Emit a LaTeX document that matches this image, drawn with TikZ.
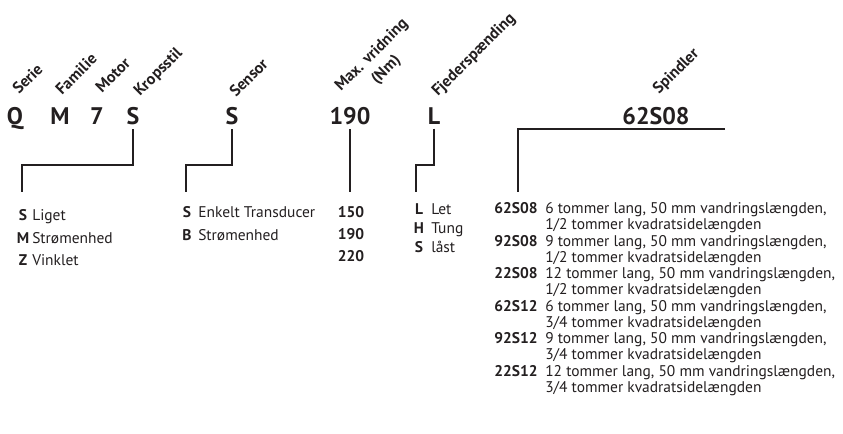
\documentclass[tikz,border=0pt]{standalone}
\usepackage{fontspec}
\setmainfont{PT Sans}
\usepackage{tikz}

\definecolor{ink}{RGB}{35,31,32}

\tikzset{
	code/.style={font=\fontsize{18}{18}\selectfont\bfseries, text=ink, anchor=base},
	lab/.style={font=\fontsize{12}{12}\selectfont\bfseries, text=ink, rotate=45, anchor=base west, inner sep=0pt},
	key/.style={font=\fontsize{11.6}{12}\selectfont\bfseries, text=ink, anchor=base, inner sep=0pt},
	item/.style={font=\fontsize{11.6}{12}\selectfont, text=ink, anchor=base west, inner sep=0pt},
	conn/.style={draw=ink, line width=1.4pt}
}

\begin{document}
\begin{tikzpicture}[x=0.75pt,y=-0.75pt]
	\useasboundingbox (0,0) rectangle (843,433);

	% code row
	\node[code] (serie) at (15,124) {Q};
	\node[code] (fam) at (60,124) {M};
	\node[code] (mot) at (97,124) {7};
	\node[code] (krop) at (133,124) {S};
	\node[code] (sens) at (232,124) {S};
	\node[code] (torq) at (350,124) {190};
	\node[code] (fjed) at (434,124) {L};
	\node[code] (spin) at (656,124) {62S08};

	% headings
	\node[lab] (lserie) at (19,95) {Serie};
	\node[lab] (lfam) at (62,96) {Familie};
	\node[lab] (lmot) at (102,94) {Motor};
	\node[lab] (lkrop) at (140,97) {Kropsstil};
	\node[lab] (lsens) at (236,98) {Sensor};
	\node[lab] (ltorq) at (341,92) {Max. vridning};
	\node[lab] (ltorqb) at (377,85) {(Nm)};
	\node[lab] (lfjed) at (438,97) {Fjederspænding};
	\node[lab] (lspin) at (659,95) {Spindler};

	% list tops
	\coordinate (kropTop) at (22,192);
	\coordinate (sensTop) at (186,192);
	\coordinate (torqTop) at (350,192);
	\coordinate (fjedTop) at (416,192);
	\coordinate (spinTop) at (518,192);
	\coordinate (spinEnd) at (725,131);

	% connectors
	\draw[conn] (krop.south) -- ++(0,36) -| (kropTop);
	\draw[conn] (sens.south) -- ++(0,36) -| (sensTop);
	\draw[conn] (torq.south) -- (torqTop);
	\draw[conn] (fjed.south) -- ++(0,36) -| (fjedTop);
	\draw[conn] (spin.south -| spinEnd) -| (spinTop);

	% Kropsstil
	\foreach \k/\t [count=\i] in {S/Liget, M/Strømenhed, Z/Vinklet} {
		\node[key] (kk\i) at (23,{198+22.5*\i}) {\k};
		\node[item] (kt\i) at (32,{198+22.5*\i}) {\t};
	}

	% Sensor
	\foreach \k/\t [count=\i] in {S/Enkelt Transducer, B/Strømenhed} {
		\node[key] (sk\i) at (187,{194+23*\i}) {\k};
		\node[item] (st\i) at (198,{194+23*\i}) {\t};
	}

	% Max. vridning
	\foreach \k [count=\i] in {150,190,220} {
		\node[key] (tk\i) at (351,{195+22*\i}) {\k};
	}

	% Fjederspaending
	\foreach \k/\t [count=\i] in {L/Let, H/Tung, S/låst} {
		\node[key] (fk\i) at (419,{195+19*\i}) {\k};
		\node[item] (ft\i) at (431,{195+19*\i}) {\t};
	}

	% Spindler
	\foreach \k/\l/\q [count=\i] in {62S08/6/{1/2}, 92S08/9/{1/2}, 22S08/12/{1/2}, 62S12/6/{3/4}, 92S12/9/{3/4}, 22S12/12/{3/4}} {
		\node[key, anchor=base west] (pk\i) at (494,{181+32.5*\i}) {\k};
		\node[item] (pa\i) at (545,{181+32.5*\i}) {\l\ tommer lang, 50 mm vandringslængden,};
		\node[item] (pb\i) at (545,{197+32.5*\i}) {\q\ tommer kvadratsidelængden};
	}

\end{tikzpicture}
\end{document}
